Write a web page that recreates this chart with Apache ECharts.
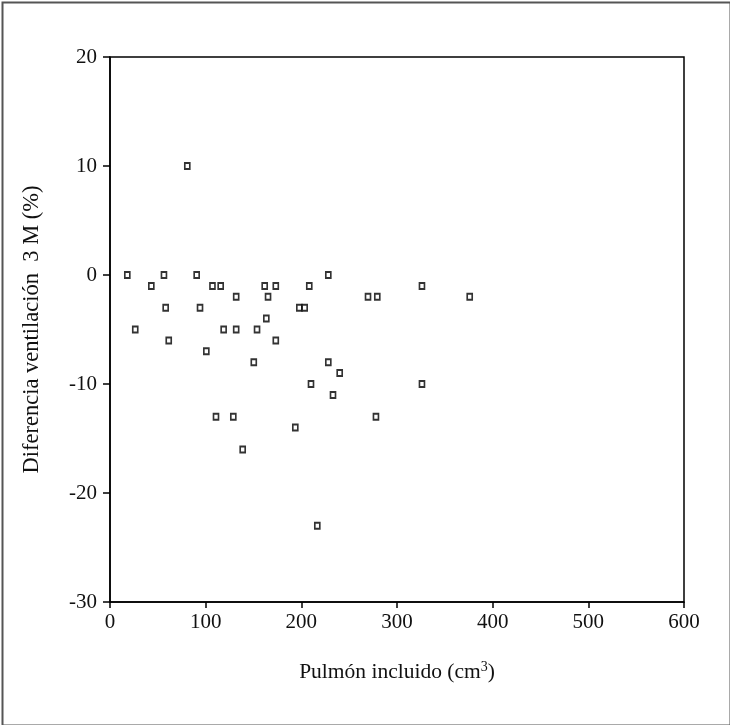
<!DOCTYPE html>
<html>
<head>
<meta charset="utf-8">
<script src="https://cdn.jsdelivr.net/npm/echarts@6/dist/echarts.min.js"></script>
<style>
html,body{margin:0;padding:0;background:#fff;}
#chart{width:730px;height:725px;}
</style>
</head>
<body>
<div id="chart"></div>
<script>
// Data
const pulmonIncluido = [80.8, 18.1, 56.4, 90.6, 228.2, 43.2, 107.1, 115.7, 161.7, 173.3, 208.3, 326.1,
  131.9, 165.2, 269.7, 279.4, 376.0, 58.2, 94.1, 197.9, 203.5, 163.4, 26.4, 118.8, 131.9, 153.7,
  61.4, 173.3, 100.7, 150.3, 228.2, 240.1, 210.1, 326.1, 233.1, 110.8, 128.9, 278.0, 193.7, 138.7, 216.7];
const diferenciaVent = [10, 0, 0, 0, 0, -1, -1, -1, -1, -1, -1, -1,
  -2, -2, -2, -2, -2, -3, -3, -3, -3, -4, -5, -5, -5, -5,
  -6, -6, -7, -8, -8, -9, -10, -10, -11, -13, -13, -13, -14, -16, -23];
const xTicks = [0, 100, 200, 300, 400, 500, 600];
const yTicks = [-30, -20, -10, 0, 10, 20];

const points = pulmonIncluido.map((x, i) => [x, diferenciaVent[i]]);
const font = '"Liberation Serif", "Times New Roman", serif';

const chart = echarts.init(document.getElementById('chart'), null, {renderer: 'canvas'});
chart.setOption({
  animation: false,
  backgroundColor: '#fff',
  grid: {left: 110, right: 46, top: 57, bottom: 123, show: true, borderColor: '#000', borderWidth: 1.5, backgroundColor: 'transparent'},
  xAxis: {
    type: 'value', min: xTicks[0], max: xTicks[xTicks.length - 1], interval: 100,
    axisLine: {show: true, onZero: false, lineStyle: {color: '#000', width: 1.5}},
    axisTick: {show: true, inside: false, length: 6, lineStyle: {color: '#000', width: 1.5}},
    splitLine: {show: false},
    axisLabel: {color: '#111', fontFamily: font, fontSize: 21, margin: 10},
    name: 'Pulmón incluido (cm{s|3})',
    nameLocation: 'middle', nameGap: 58,
    nameTextStyle: {color: '#111', fontFamily: font, fontSize: 21.5,
      rich: {s: {fontSize: 14, verticalAlign: 'top', padding: [0, 0, 10, 0], fontFamily: font, color: '#111'}}}
  },
  yAxis: {
    type: 'value', min: yTicks[0], max: yTicks[yTicks.length - 1], interval: 10,
    axisLine: {show: true, onZero: false, lineStyle: {color: '#000', width: 1.5}},
    axisTick: {show: true, inside: false, length: 7, lineStyle: {color: '#000', width: 1.5}},
    splitLine: {show: false},
    axisLabel: {color: '#111', fontFamily: font, fontSize: 21, margin: 13},
    name: 'Diferencia ventilación  3 M (%)',
    nameLocation: 'middle', nameGap: 66, nameRotate: 90,
    nameTextStyle: {color: '#111', fontFamily: font, fontSize: 22.5}
  },
  graphic: [
    {type: 'rect', left: 0, top: 0, shape: {x: 1, y: 1, width: 728, height: 723},
      style: {fill: 'none', stroke: '#555', lineWidth: 2}, silent: true, z: 100}
  ],
  series: [{
    type: 'scatter',
    data: points,
    symbol: 'rect',
    symbolSize: [5, 6],
    itemStyle: {color: '#fff', borderColor: '#000', borderWidth: 1.8},
    emphasis: {disabled: true}
  }]
});
</script>
</body>
</html>
